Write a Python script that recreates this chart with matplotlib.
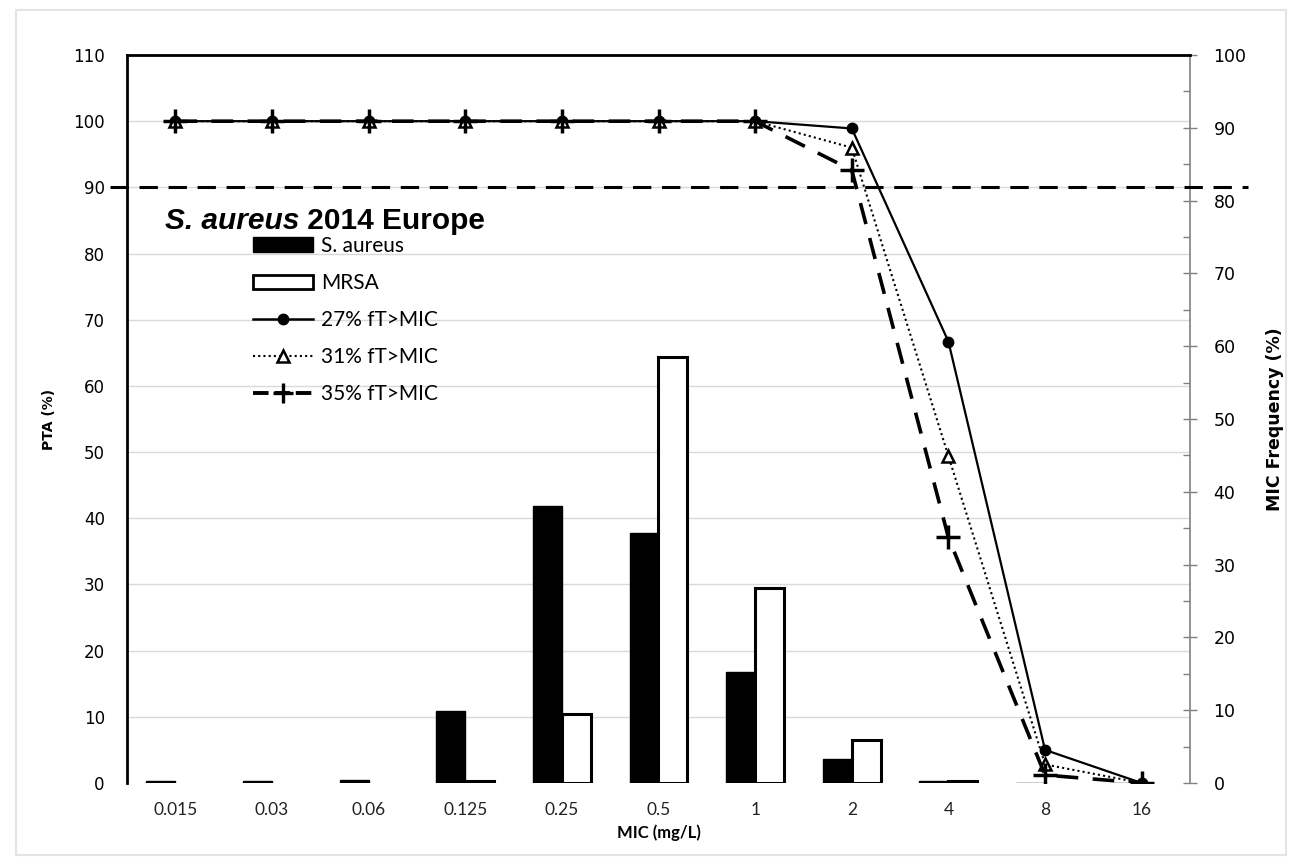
import numpy as np
import matplotlib.pyplot as plt
from matplotlib.patches import Rectangle
from matplotlib.lines import Line2D

mic_labels = ['0.015', '0.03', '0.06', '0.125', '0.25', '0.5', '1', '2', '4', '8', '16']

# MIC frequency (%), right axis
sa_freq = [0.3, 0.3, 0.4, 9.9, 38.1, 34.3, 15.2, 3.3, 0.3, 0, 0]
mrsa_freq = [0, 0, 0, 0.3, 9.5, 58.5, 26.8, 5.9, 0.3, 0, 0]

# PTA (%), left axis
pta27 = [100, 100, 100, 100, 100, 100, 100, 98.9, 66.7, 5.0, 0]
pta31 = [100, 100, 100, 100, 100, 100, 100, 96.0, 49.4, 2.8, 0]
pta35 = [100, 100, 100, 100, 100, 100, 100, 92.6, 37.1, 1.2, 0]
target = 90

x = np.arange(len(mic_labels))
w = 0.3

fig = plt.figure(figsize=(12.96, 8.65), dpi=100)
ax = fig.add_axes([127/1296, 1-783/865, (1190-127)/1296, (783-55)/865])
ax2 = ax.twinx()

# bars go below the lines
ax.set_zorder(ax2.get_zorder() + 1)
ax.patch.set_visible(False)

# grid of the left axis, drawn on the lower axes so it stays behind bars
ax2.hlines(np.arange(10, 110, 10), 0, 1, transform=ax.get_yaxis_transform(),
           colors='#d9d9d9', linewidth=1, zorder=0)

ax2.bar(x - w/2, sa_freq, w, color='black', edgecolor='black', linewidth=1, zorder=2)
ax2.bar(x + w/2, mrsa_freq, w, color='white', edgecolor='black',
        linewidth=[2.2 if v > 0 else 0 for v in mrsa_freq], zorder=2)

ax.plot(x, pta27, color='black', lw=1.6, marker='o', ms=7.5, zorder=3)
ax.plot(x, pta31, color='black', lw=1.5, ls=(0, (1, 1.5)), marker='^', ms=8,
        mfc='white', mec='black', mew=1.8, zorder=4)
ax.plot(x, pta35, color='black', lw=2.6, ls=(0, (6, 4)), marker='+', ms=17,
        mew=2.5, zorder=5)

ax.plot([-0.016, 1.055], [target, target], transform=ax.get_yaxis_transform(),
        color='black', lw=2.2, ls=(0, (6, 3.5)), clip_on=False, zorder=6)

ax.set_xlim(-0.5, len(mic_labels) - 0.5)
ax.set_ylim(0, 110)
ax2.set_ylim(0, 100)

ax.set_xticks(x)
ax.set_xticklabels(mic_labels, fontsize=12.5, family='Lato', color='#222222')
ax.set_yticks(np.arange(0, 111, 10))
ax.tick_params(axis='y', length=0, pad=16, labelsize=12)
ax.tick_params(axis='x', length=0, pad=14)
for lab in ax.get_yticklabels():
    lab.set_family('DejaVu Sans')

ax2.set_yticks(np.arange(0, 101, 10))
ax2.set_yticks(np.arange(5, 100, 10), minor=True)
ax2.tick_params(axis='y', which='major', direction='inout', length=10, width=1,
                color='#808080', pad=12, labelsize=12.5)
ax2.tick_params(axis='y', which='minor', direction='in', length=5, width=1,
                color='#808080')

for s in ['left', 'top']:
    ax.spines[s].set_linewidth(2)
    ax.spines[s].set_color('black')
ax.spines['right'].set_visible(False)
ax.spines['bottom'].set_visible(False)
for s in ['left', 'top', 'bottom']:
    ax2.spines[s].set_visible(False)
ax2.spines['right'].set_color('#808080')
ax2.spines['right'].set_linewidth(1.2)

ax.set_ylabel('PTA (%)', fontsize=10, fontweight='bold', family='DejaVu Sans', labelpad=12)
ax.set_xlabel('MIC (mg/L)', fontsize=12, fontweight='bold', family='Lato', labelpad=4)
ax2.set_ylabel('MIC Frequency (%)', fontsize=12.5, fontweight='bold',
               family='DejaVu Sans', labelpad=14)

t1 = fig.text(165/1296, 1-229/865, 'S. aureus', fontsize=21.5, fontweight='bold',
              style='italic', family='Liberation Sans', va='baseline')
ax.annotate(' 2014 Europe', xy=(1, 0), xycoords=t1, fontsize=21.5, fontweight='bold',
            family='Liberation Sans', va='bottom', ha='left')

handles = [
    Rectangle((0, 0), 1, 1, facecolor='black', edgecolor='black'),
    Rectangle((0, 0), 1, 1, facecolor='white', edgecolor='black', linewidth=2),
    Line2D([], [], color='black', lw=1.8, marker='o', ms=7.5),
    Line2D([], [], color='black', lw=1.5, ls=(0, (1, 1.5)), marker='^', ms=8,
           mfc='white', mec='black', mew=1.8),
    Line2D([], [], color='black', lw=2.8, ls=(0, (4, 1.5)), marker='+', ms=15, mew=2.4),
]
labels = ['S. aureus', 'MRSA', '27% fT>MIC', '31% fT>MIC', '35% fT>MIC']
leg = ax.legend(handles, labels, loc='upper left',
                bbox_to_anchor=(253/1296, 1-236/865), bbox_transform=fig.transFigure,
                frameon=False, handlelength=2.9, handletextpad=0.35,
                labelspacing=0.82, borderpad=0, borderaxespad=0, numpoints=1,
                prop={'family': 'Lato', 'size': 15})

fig.patches.append(Rectangle((16/1296, 10/865), 1270/1296, 845/865, fill=False,
                             edgecolor='#e4e4e4', linewidth=1.5,
                             transform=fig.transFigure, figure=fig))

fig.savefig('out.png', dpi=100)
